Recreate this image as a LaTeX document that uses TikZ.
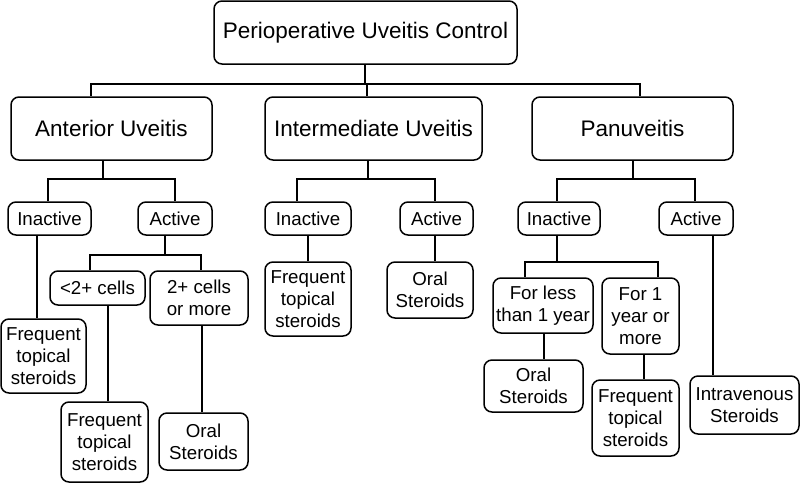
\documentclass[tikz,border=0pt]{standalone}
\usepackage{fontspec}
\setmainfont{Liberation Sans}

\newcommand{\bigtxt}{\fontsize{22.5}{27}\selectfont}
\newcommand{\smalltxt}{\fontsize{18.7}{22}\selectfont}

\tikzstyle{bigbox} = [draw,line width=1.5pt,rounded corners=8pt,inner sep=0pt,align=center,font=\bigtxt,minimum height=63pt]
\tikzstyle{box} = [draw,line width=1.5pt,rounded corners=8pt,inner sep=0pt,align=center,font=\smalltxt]
\tikzstyle{link} = [line width=1.5pt]

\begin{document}
\begin{tikzpicture}[x=1pt,y=-1pt]

\useasboundingbox (0,0) rectangle (800,483);

% Top box
\node [bigbox,minimum width=303pt] (root) at (365.5,32.5) {Perioperative Uveitis Control};

% Three kinds
\node [bigbox,minimum width=201pt] (ant) at (111.5,128.5) {Anterior Uveitis};
\node [bigbox,minimum width=217pt] (inter) at (373.5,128.5) {Intermediate Uveitis};
\node [bigbox,minimum width=201pt] (pan) at (632.5,128.5) {Panuveitis};

% Inactive / Active
\node [box,minimum width=83pt,minimum height=33pt] (inA) at (49.5,218.5) {Inactive};
\node [box,minimum width=74pt,minimum height=33pt] (acA) at (175,218.5) {Active};
\node [box,minimum width=86pt,minimum height=33pt] (inI) at (308,218.5) {Inactive};
\node [box,minimum width=73pt,minimum height=33pt] (acI) at (436.5,218.5) {Active};
\node [box,minimum width=82pt,minimum height=33pt] (inP) at (559,218.5) {Inactive};
\node [box,minimum width=74pt,minimum height=33pt] (acP) at (696,218.5) {Active};

% Anterior branch
\node [box,minimum width=85pt,minimum height=74pt] (ftA1) at (43.5,356) {Frequent\\topical\\steroids};
\node [box,minimum width=95pt,minimum height=34pt] (lt2) at (97.5,288) {<2+ cells};
\node [box,minimum width=98pt,minimum height=54pt] (ge2) at (199,298) {2+ cells\\or more};
\node [box,minimum width=87pt,minimum height=80pt] (ftA2) at (104.5,442) {Frequent\\topical\\steroids};
\node [box,minimum width=89pt,minimum height=57pt] (osA) at (203.5,441.5) {Oral\\Steroids};

% Intermediate branch
\node [box,minimum width=86pt,minimum height=74pt] (ftI) at (308,299) {Frequent\\topical\\steroids};
\node [box,minimum width=86pt,minimum height=56pt] (osI) at (430,290) {Oral\\Steroids};

% Panuveitis branch
\node [box,minimum width=100pt,minimum height=55pt] (lt1) at (543,305.5) {For less\\than 1 year};
\node [box,minimum width=77pt,minimum height=76pt] (ge1) at (640.5,316) {For 1\\year or\\more};
\node [box,minimum width=99pt,minimum height=52pt] (osP) at (533.5,386) {Oral\\Steroids};
\node [box,minimum width=87pt,minimum height=76pt] (ftP) at (635.5,418) {Frequent\\topical\\steroids};
\node [box,minimum width=109pt,minimum height=58pt] (ivP) at (744.5,405) {Intravenous\\Steroids};

% Links from top
\draw [link] ([xshift=-0.5pt]root.south) -- ++(0,19) -| ([xshift=-20.5pt]ant.north);
\draw [link] ([xshift=-0.5pt]root.south) -- ++(0,19) -| ([xshift=-6.5pt]inter.north);
\draw [link] ([xshift=-0.5pt]root.south) -- ++(0,19) -| ([xshift=7.5pt]pan.north);

% Links to inactive / active
\draw [link] ([xshift=-8.5pt]ant.south) -- ++(0,18) -| ([xshift=-1.5pt]inA.north);
\draw [link] ([xshift=-8.5pt]ant.south) -- ++(0,18) -| (acA.north);
\draw [link] ([xshift=-5.5pt]inter.south) -- ++(0,18) -| ([xshift=-11pt]inI.north);
\draw [link] ([xshift=-5.5pt]inter.south) -- ++(0,18) -| ([xshift=-1.5pt]acI.north);
\draw [link] ([xshift=0.5pt]pan.south) -- ++(0,18) -| ([xshift=-2pt]inP.north);
\draw [link] ([xshift=0.5pt]pan.south) -- ++(0,18) -| ([xshift=-1pt]acP.north);

% Anterior links
\draw [link] ([xshift=-12.5pt]inA.south) -- ([xshift=-6.5pt]ftA1.north);
\draw [link] ([xshift=-10pt]acA.south) -- ++(0,19) -| ([xshift=-7.5pt]lt2.north);
\draw [link] ([xshift=-10pt]acA.south) -- ++(0,19) -| ([xshift=2pt]ge2.north);
\draw [link] ([xshift=10.5pt]lt2.south) -- ([xshift=3.5pt]ftA2.north);
\draw [link] ([xshift=3pt]ge2.south) -- ([xshift=-1.5pt]osA.north);

% Intermediate links
\draw [link] (inI.south) -- (ftI.north);
\draw [link] ([xshift=-1.5pt]acI.south) -- ([xshift=5pt]osI.north);

% Panuveitis links
\draw [link] ([xshift=-2pt]inP.south) -- ++(0,26) -| ([xshift=-18pt]lt1.north);
\draw [link] ([xshift=-2pt]inP.south) -- ++(0,26) -| ([xshift=17.5pt]ge1.north);
\draw [link] ([xshift=1pt]lt1.south) -- ([xshift=10.5pt]osP.north);
\draw [link] ([xshift=3.5pt]ge1.south) -- ([xshift=8.5pt]ftP.north);
\draw [link] ([xshift=17pt]acP.south) -- ([xshift=-31.5pt]ivP.north);

\end{tikzpicture}
\end{document}
